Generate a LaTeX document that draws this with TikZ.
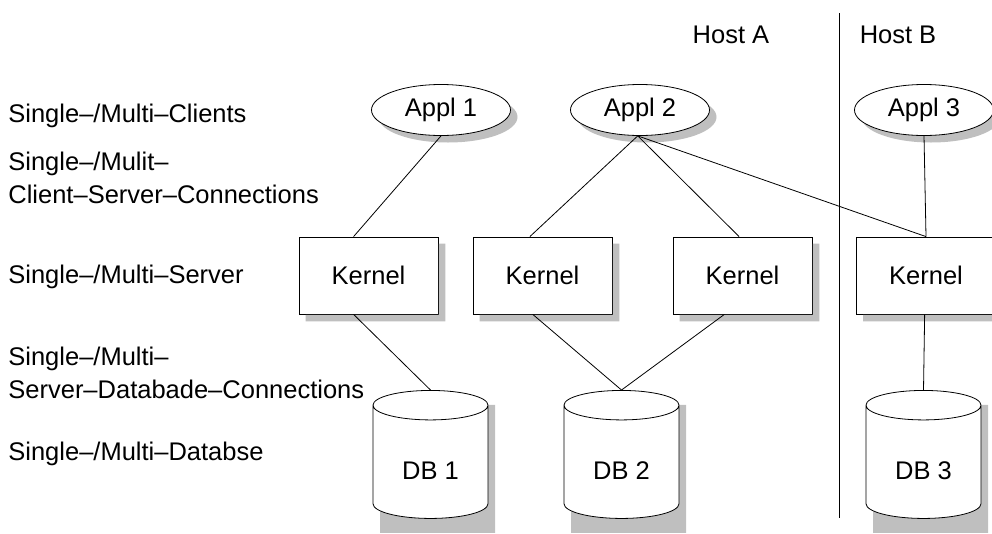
\documentclass[tikz,border=0pt]{standalone}
\usepackage{fontspec}
\setmainfont{Liberation Sans}
\usetikzlibrary{shapes.geometric}

\tikzset{
  appl/.style={ellipse, draw, fill=white, minimum width=139pt, minimum height=51pt, inner sep=0pt},
  kastenbox/.style={rectangle, draw, fill=white, minimum width=139pt, minimum height=77pt, inner sep=0pt},
  db/.style={cylinder, shape border rotate=90, shape aspect=0.52, draw, fill=white, minimum width=115pt, minimum height=128pt, inner sep=0pt, text height=34pt, text depth=0pt},
  schatten/.style={draw=none, fill=black!25},
  ebene/.style={anchor=west, align=left, inner sep=0pt},
}

\begin{document}
\begin{tikzpicture}[x=1pt, y=-1pt, font=\fontsize{25.5}{33}\selectfont, line width=0.8pt]
\useasboundingbox (0,0) rectangle (992,533);
\def\sx{7}% Schattenversatz

% =========================================================
% Ebenen links
% =========================================================
\node[ebene] (lclients) at (8,116) {Single–/Multi–Clients};
\node[ebene] (lcsconn) at (8,178) {Single–/Mulit–\\Client–Server–Connections};
\node[ebene] (lserver) at (8,277) {Single–/Multi–Server};
\node[ebene] (lsdconn) at (8,373) {Single–/Multi–\\Server–Databade–Connections};
\node[ebene] (ldb) at (8,454) {Single–/Multi–Databse};

% =========================================================
% Hosts
% =========================================================
\node (hosta) at (731,35) {Host A};
\node (hostb) at (898,35) {Host B};
\coordinate (trennoben) at (839,13);
\coordinate (trennunten) at (839,518);
\draw (trennoben) -- (trennunten);

% =========================================================
% Schatten
% =========================================================
\node[appl, schatten] (appl1s) at (441+\sx,110+\sx) {};
\node[appl, schatten] (appl2s) at (640+\sx,110+\sx) {};
\node[appl, schatten] (appl3s) at (924+\sx,110+\sx) {};
\node[db, schatten] (db1s) at (430.5+\sx,462+\sx) {};
\node[db, schatten] (db2s) at (621.5+\sx,462+\sx) {};
\node[db, schatten] (db3s) at (923.5+\sx,462+\sx) {};

% =========================================================
% Clients, Server, Datenbanken
% =========================================================
\node[appl] (appl1) at (441,110) {Appl 1};
\node[appl] (appl2) at (640,110) {Appl 2};
\node[appl] (appl3) at (924,110) {Appl 3};

\node[kastenbox] (kern1) at (368.5,275.5) {Kernel};
\node[kastenbox] (kern2) at (542.5,275.5) {Kernel};
\node[kastenbox] (kern3) at (742.5,275.5) {Kernel};
\node[kastenbox] (kern4) at (926,275.5) {Kernel};

% Schatten der Kernel (nur der sichtbare Winkel)
\foreach \k in {kern1,kern2,kern3,kern4}
  \fill[black!25] ([shift={(0.4,\sx)}]\k.north east) -- ([shift={(\sx,\sx)}]\k.north east)
    -- ([shift={(\sx,\sx)}]\k.south east) -- ([shift={(\sx,\sx)}]\k.south west)
    -- ([shift={(\sx,0.4)}]\k.south west) -- ([shift={(0.4,0.4)}]\k.south east) -- cycle;

\node[db] (db1) at (430.5,462) {DB 1};
\node[db] (db2) at (621.5,462) {DB 2};
\node[db] (db3) at (923.5,462) {DB 3};

% Verbindungen Client - Server
\draw (appl1.south) -- (kern1.111);
\draw (appl2.265) -- (kern2.108);
\draw (appl2.265) -- (kern3.95);
\draw (appl2.265) -- (kern4.north);
\draw (appl3.south) -- (kern4.north);
% Verbindungen Server - Datenbank
\draw (kern1.249) -- (db1.north);
\draw (kern2.256) -- (db2.north);
\draw (kern3.245) -- (db2.north);
\draw (kern4.268) -- (db3.north);

\end{tikzpicture}
\end{document}
